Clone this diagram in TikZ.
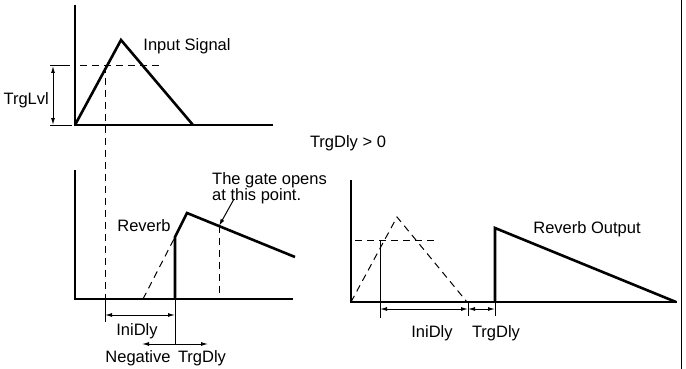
\documentclass[tikz,border=0pt]{standalone}
\usepackage{fontspec}
\setmainfont{Liberation Sans}
\usetikzlibrary{arrows.meta}

\begin{document}
\begin{tikzpicture}[
  x=1pt,y=-1pt,
  every node/.style={font=\fontsize{16.5}{18}\selectfont,inner sep=0pt},
  axis/.style={line width=1.3pt},
  sig/.style={line width=2.6pt,line join=miter},
  guide/.style={line width=1pt,dash pattern=on 7pt off 5pt},
  ext/.style={line width=1pt},
  dim/.style={line width=1pt,{Latex[length=7pt,width=4pt]}-{Latex[length=7pt,width=4pt]}},
  dimr/.style={line width=1pt,-{Latex[length=7pt,width=4pt]}},
]
\useasboundingbox (0,0) rectangle (686,369);

% Input signal
\coordinate (o1) at (75,125);
\coordinate (trg) at (105,66);
\draw[axis] (75,5) -- (o1) -- (273,125);
\draw[sig] (o1) -- (121,40) -- (193,125);
\draw[guide] (80,66) -- (160,66);
\draw[guide] (trg) -- (105,300);
\node (insig) at (187,46) {Input Signal};

% TrgLvl
\draw[ext] (50,66) -- (70,66);
\draw[ext] (50,125) -- (72,125);
\coordinate (lvltop) at (53,66);
\coordinate (lvlbot) at (53,125);
\draw[dim] (lvltop) -- (lvlbot);
\node[anchor=east] (trglvl) at (49,100) {TrgLvl};

\node (cond) at (348,143) {TrgDly > 0};

% Reverb, negative delay
\coordinate (o2) at (75,299);
\coordinate (gate) at (175,237);
\coordinate (hit) at (219,226);
\draw[axis] (75,170) -- (o2) -- (293,299);
\draw[guide] (143,299) -- (gate);
\draw[sig] (175,299) -- (gate) -- (187,213) -- (295,257);
\draw[guide] (hit) -- (219,299);
\node (rev) at (144,226) {Reverb};
\node[align=left,anchor=north west,font=\fontsize{16.5}{14.5}\selectfont] (opens) at (212,172) {The gate opens\\at this point.};
\draw[dimr] (234,199) -- (hit);

\draw[ext] (105,300) -- (105,322);
\draw[ext] (175,299) -- (175,345);
\coordinate (ini1) at (105,315);
\coordinate (ini2) at (175,315);
\draw[dim] (ini1) -- (ini2);
\node (inidly1) at (137,331) {IniDly};
\coordinate (neg) at (175,344);
\draw[dimr] (neg) -- (142,344);
\draw[dimr] (neg) -- (208,344);
\node (negtxt) at (138,358) {Negative};
\node (trgdly1) at (202,358) {TrgDly};

% Reverb output, positive delay
\coordinate (o3) at (351,302);
\coordinate (lvl3) at (380,240);
\draw[axis] (351,180) -- (o3) -- (677,302);
\draw[guide] (o3) -- (397,217) -- (467,302);
\draw[guide] (355,240) -- (435,240);
\draw[ext] (lvl3) -- (380,318);
\draw[sig] (495,302) -- (495,228) -- (676,302);
\draw[ext] (468,302) -- (468,316);
\draw[ext] (495,302) -- (495,316);
\coordinate (ini3) at (380,309);
\coordinate (end3) at (468,309);
\coordinate (out3) at (495,309);
\draw[dim] (ini3) -- (end3);
\draw[dim] (end3) -- (out3);
\node (revout) at (587,229) {Reverb Output};
\node (inidly2) at (432,333) {IniDly};
\node (trgdly2) at (496,333) {TrgDly};

% page edge
\draw[ext] (681,0) -- (681,369);
\end{tikzpicture}
\end{document}
